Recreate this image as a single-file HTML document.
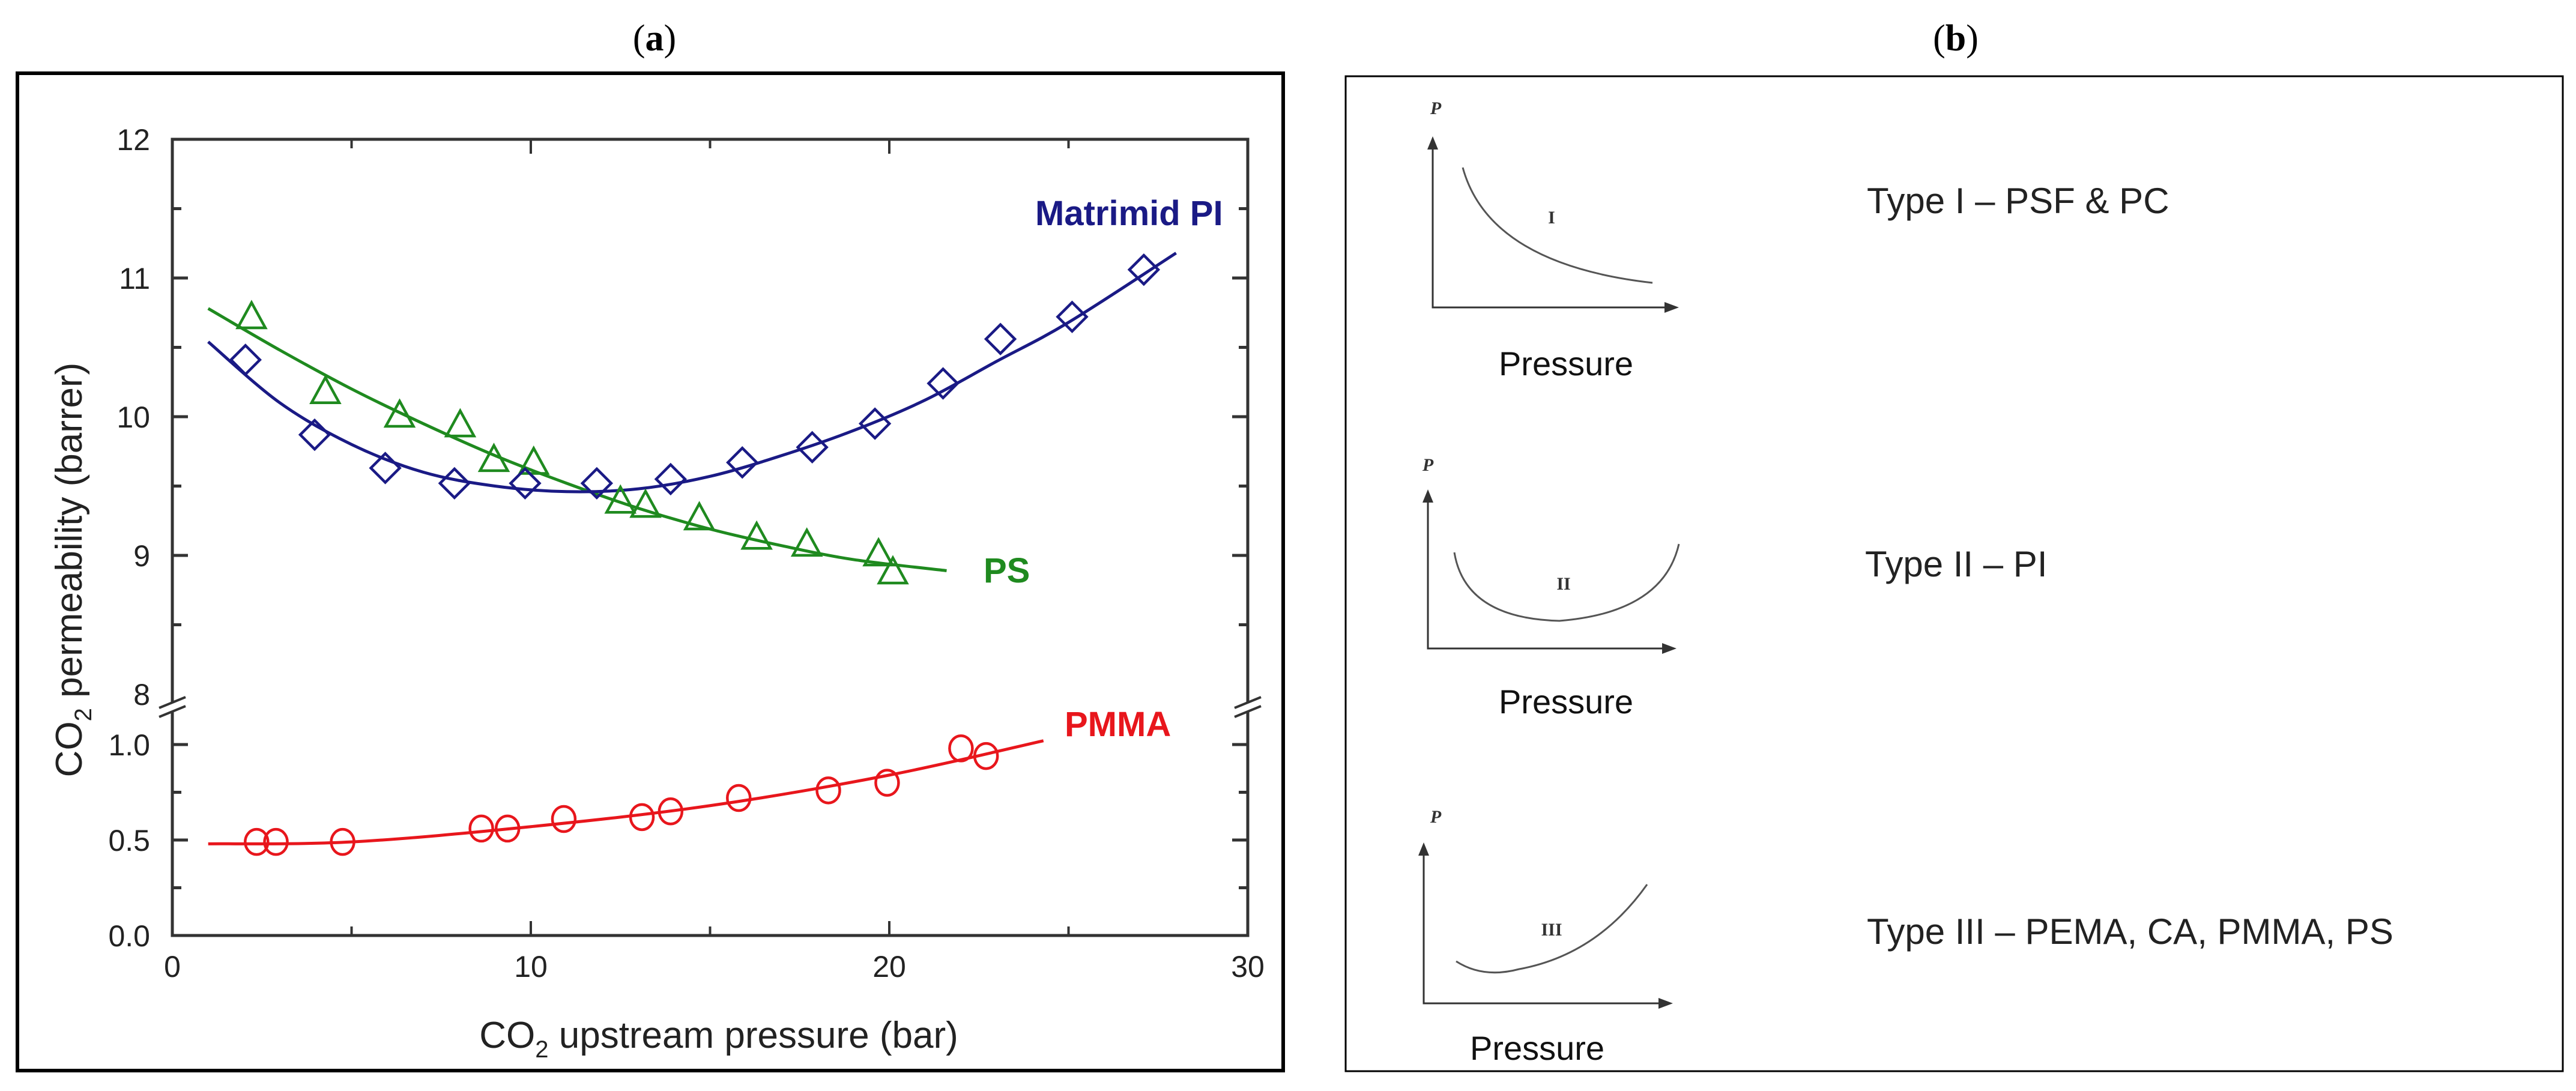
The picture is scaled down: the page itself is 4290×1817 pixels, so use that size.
<!DOCTYPE html>
<html>
<head>
<meta charset="utf-8">
<style>
  html,body{margin:0;padding:0;background:#fff;}
  svg{display:block;}
  .tick{font-family:"Liberation Sans Narrow","Liberation Sans",sans-serif;font-size:50px;fill:#222;}
  .ttl{font-family:"Liberation Sans Narrow","Liberation Sans",sans-serif;font-size:62px;fill:#222;}
  .lbl{font-family:"Liberation Sans",sans-serif;font-weight:bold;font-size:58px;}
  .panel{font-family:"Liberation Serif",serif;font-size:62px;fill:#000;}
  .typ{font-family:"Liberation Sans",sans-serif;font-size:60px;fill:#222;}
  .prs{font-family:"Liberation Sans",sans-serif;font-size:56px;fill:#111;}
  .rom{font-family:"Liberation Serif",serif;font-size:30px;font-weight:bold;fill:#333;}
</style>
</head>
<body>
<svg id="fig" width="4290" height="1817" viewBox="0 0 4290 1817" xmlns="http://www.w3.org/2000/svg">
  <rect width="4290" height="1817" fill="#fff"/>
  <text class="panel" x="1090" y="84" text-anchor="middle">(<tspan font-weight="bold">a</tspan>)</text>
  <text class="panel" x="3257" y="84" text-anchor="middle">(<tspan font-weight="bold">b</tspan>)</text>
  <rect x="29" y="122" width="2108" height="1661" fill="none" stroke="#000" stroke-width="6"/>
  <rect x="2241" y="127" width="2027" height="1657" fill="none" stroke="#000" stroke-width="3"/>
  <g id="chart"></g>
  <g id="panelb">
    <text class="typ" x="3109" y="355">Type I – PSF &amp; PC</text>
    <text class="typ" x="3106" y="960">Type II – PI</text>
    <text class="typ" x="3109" y="1572">Type III – PEMA, CA, PMMA, PS</text>
  </g>
</svg>
<script>
// ---- chart data ----
const xTicks = [0, 10, 20, 30];
const yUpperTicks = [8, 9, 10, 11, 12];
const yLowerTicks = [0.0, 0.5, 1.0];
const piX = [2.04, 3.97, 5.94, 7.87, 9.84, 11.84, 13.9, 15.9, 17.85, 19.6, 21.5, 23.1, 25.1, 27.1];
const piY = [10.41, 9.87, 9.63, 9.52, 9.52, 9.52, 9.55, 9.67, 9.78, 9.95, 10.24, 10.56, 10.72, 11.06];
const piFitX = [1, 3, 5, 7, 9, 11, 13, 15, 17, 19, 21, 23, 25, 28];
const piFitY = [10.54, 10.1, 9.8, 9.6, 9.5, 9.46, 9.48, 9.57, 9.72, 9.9, 10.12, 10.4, 10.68, 11.18];
const psX = [2.21, 4.27, 6.34, 8.03, 8.97, 10.08, 12.5, 13.2, 14.7, 16.3, 17.7, 19.7, 20.1];
const psY = [10.71, 10.17, 10.0, 9.93, 9.68, 9.66, 9.38, 9.35, 9.26, 9.12, 9.07, 9.0, 8.87];
const psFitX = [1, 3, 5, 7, 9, 11, 13, 15, 17, 19, 21.6];
const psFitY = [10.78, 10.48, 10.2, 9.95, 9.72, 9.52, 9.34, 9.19, 9.07, 8.97, 8.89];
const pmX = [2.35, 2.89, 4.75, 8.62, 9.35, 10.92, 13.1, 13.9, 15.8, 18.3, 19.94, 22.0, 22.7];
const pmY = [0.49, 0.49, 0.49, 0.56, 0.56, 0.61, 0.62, 0.65, 0.72, 0.76, 0.80, 0.98, 0.94];
const pmFitX = [1, 5, 10, 15, 20, 24.3];
const pmFitY = [0.48, 0.49, 0.57, 0.68, 0.84, 1.02];

const NS = "http://www.w3.org/2000/svg";
const L = 287, R = 2078, T = 232, B = 1558;
function sx(v){ return L + v * (R - L) / 30; }
function sy(v){ return v >= 7.5 ? T + (12 - v) * 231 : B - v * 318; }
function mk(tag, attrs, parent){
  const e = document.createElementNS(NS, tag);
  for (const k in attrs) e.setAttribute(k, attrs[k]);
  parent.appendChild(e);
  return e;
}
function smooth(xs, ys){
  const p = xs.map((x,i)=>[sx(x), sy(ys[i])]);
  let d = "M" + p[0][0] + "," + p[0][1];
  for (let i=0;i<p.length-1;i++){
    const p0=p[Math.max(0,i-1)], p1=p[i], p2=p[i+1], p3=p[Math.min(p.length-1,i+2)];
    const c1=[p1[0]+(p2[0]-p0[0])/6, p1[1]+(p2[1]-p0[1])/6];
    const c2=[p2[0]-(p3[0]-p1[0])/6, p2[1]-(p3[1]-p1[1])/6];
    d += " C"+c1[0]+","+c1[1]+" "+c2[0]+","+c2[1]+" "+p2[0]+","+p2[1];
  }
  return d;
}
const g = document.getElementById("chart");
const ax = "#333";
// axes with break
const yb1 = sy(8) + 14, yb2 = 1185;
let e;
e = mk("path", {d:`M${L},${yb2} L${L},${B} L${R},${B} L${R},${yb2} M${R},${yb1} L${R},${T} L${L},${T} L${L},${yb1}`, fill:"none", stroke:ax, "stroke-width":5}, g);


// break marks
[L, R].forEach(x=>{
  [yb1, yb2].forEach(y=>{
    e = mk("line", {x1:x-22, y1:y+9, x2:x+22, y2:y-9, stroke:ax, "stroke-width":4}, g);
    
    
  });
});
// x ticks
for (let v=5; v<30; v+=5){
  const len = v%10===0 ? 24 : 15;
  e = mk("line", {x1:sx(v), y1:B, x2:sx(v), y2:B-len, stroke:ax, "stroke-width":4}, g);
  
  
  e = mk("line", {x1:sx(v), y1:T, x2:sx(v), y2:T+len, stroke:ax, "stroke-width":4}, g);
  
  
}
xTicks.forEach(v=>{
  e = mk("text", {x:sx(v), y:1627, "text-anchor":"middle", class:"tick"}, g);
  e.textContent = v;
  
  
});
// y ticks upper
for (let v=8.5; v<12; v+=0.5){
  const len = v%1===0 ? 26 : 15;
  [[L,1],[R,-1]].forEach(([x,dir])=>{
    e = mk("line", {x1:x, y1:sy(v), x2:x+dir*len, y2:sy(v), stroke:ax, "stroke-width":5}, g);
    
    
  });
}
for (let v=0.25; v<1.2; v+=0.25){
  const len = Math.abs(v*2-Math.round(v*2))<1e-6 ? 26 : 15;
  [[L,1],[R,-1]].forEach(([x,dir])=>{
    e = mk("line", {x1:x, y1:sy(v), x2:x+dir*len, y2:sy(v), stroke:ax, "stroke-width":5}, g);
    
    
  });
}
yUpperTicks.forEach(v=>{
  e = mk("text", {x:250, y:sy(v)+18, "text-anchor":"end", class:"tick"}, g);
  e.textContent = v;
  
  
});
yLowerTicks.forEach(v=>{
  e = mk("text", {x:250, y:sy(v)+18, "text-anchor":"end", class:"tick"}, g);
  e.textContent = v.toFixed(1);
  
  
});
// axis titles
e = mk("text", {x:1197, y:1745, "text-anchor":"middle", class:"ttl"}, g);
e.innerHTML = 'CO<tspan font-size="40" dy="16">2</tspan><tspan dy="-16"> upstream pressure (bar)</tspan>';


e = mk("text", {x:0, y:0, "text-anchor":"middle", class:"ttl", transform:"translate(136,949) rotate(-90)"}, g);
e.innerHTML = 'CO<tspan font-size="40" dy="16">2</tspan><tspan dy="-16"> permeability   (barrer)</tspan>';


// fit lines
const series = [
  {fx:psFitX, fy:psFitY, c:"#1f8a1f", n:"ps"},
  {fx:piFitX, fy:piFitY, c:"#1a1a85", n:"matrimid-pi"},
  {fx:pmFitX, fy:pmFitY, c:"#e8161c", n:"pmma"}
];
series.forEach(s=>{
  e = mk("path", {d:smooth(s.fx, s.fy), fill:"none", stroke:s.c, "stroke-width":5}, g);
  
  
});
// markers
psX.forEach((x,i)=>{
  const cx=sx(x), cy=sy(psY[i]);
  e = mk("path", {d:`M${cx},${cy-26} L${cx+23},${cy+16} L${cx-23},${cy+16} Z`, fill:"none", stroke:"#1f8a1f", "stroke-width":4.5}, g);
  
  
});
piX.forEach((x,i)=>{
  const cx=sx(x), cy=sy(piY[i]);
  e = mk("path", {d:`M${cx},${cy-24} L${cx+24},${cy} L${cx},${cy+24} L${cx-24},${cy} Z`, fill:"none", stroke:"#1a1a85", "stroke-width":4.5}, g);
  
  
});
pmX.forEach((x,i)=>{
  e = mk("ellipse", {cx:sx(x), cy:sy(pmY[i]), rx:19, ry:21, fill:"none", stroke:"#e8161c", "stroke-width":4.5}, g);
  
  
});
// series labels
e = mk("text", {x:1724, y:375, class:"lbl", fill:"#1a1a85"}, g);
e.textContent = "Matrimid PI";


e = mk("text", {x:1638, y:970, class:"lbl", fill:"#1f8a1f"}, g);
e.textContent = "PS";


e = mk("text", {x:1773, y:1226, class:"lbl", fill:"#e8161c"}, g);
e.textContent = "PMMA";



// ---- panel b schematics ----
const pb = document.getElementById("panelb");
const minis = [
  {ax:2386, top:227, bot:512, right:2796, curve:"M2436,279 Q2480,440 2752,471", rom:"I", rx:2584, ry:372, px:2608, py:625, plx:2391, ply:190, n:"type-i"},
  {ax:2378, top:815, bot:1080, right:2792, curve:"M2422,920 Q2440,1030 2597,1034 Q2770,1020 2796,906", rom:"II", rx:2604, ry:982, px:2608, py:1188, plx:2378, ply:784, n:"type-ii"},
  {ax:2371, top:1403, bot:1671, right:2786, curve:"M2425,1601 Q2470,1630 2530,1614 Q2660,1590 2743,1473", rom:"III", rx:2584, ry:1558, px:2560, py:1765, plx:2391, ply:1370, n:"type-iii"}
];
minis.forEach(m=>{
  const gg = mk("g", {}, pb);
  
  
  mk("path", {d:`M${m.ax},${m.top+20} L${m.ax},${m.bot} L${m.right-22},${m.bot}`, fill:"none", stroke:"#333", "stroke-width":3}, gg);
  mk("path", {d:`M${m.ax-9},${m.top+22} L${m.ax},${m.top} L${m.ax+9},${m.top+22} Z`, fill:"#333"}, gg);
  mk("path", {d:`M${m.right-24},${m.bot-9} L${m.right},${m.bot} L${m.right-24},${m.bot+9} Z`, fill:"#333"}, gg);
  mk("path", {d:m.curve, fill:"none", stroke:"#555", "stroke-width":3}, gg);
  let t = mk("text", {x:m.rx, y:m.ry, "text-anchor":"middle", class:"rom"}, gg);
  t.textContent = m.rom;
  t = mk("text", {x:m.plx, y:m.ply, "text-anchor":"middle", class:"rom", "font-style":"italic", "font-size":"28"}, gg);
  t.textContent = "P";
  t = mk("text", {x:m.px, y:m.py, "text-anchor":"middle", class:"prs"}, gg);
  t.textContent = "Pressure";
});
</script>
</body>
</html>
